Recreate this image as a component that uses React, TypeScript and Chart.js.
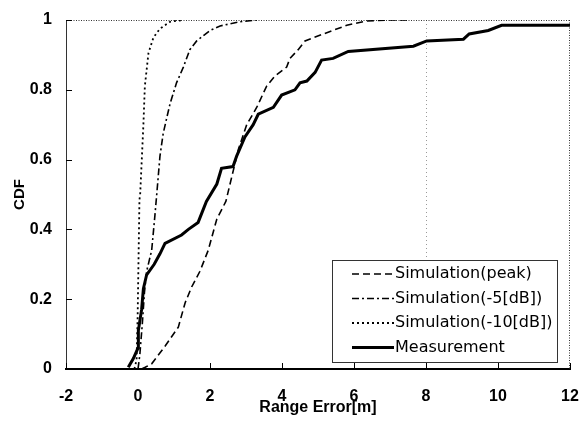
import React, { useEffect, useRef } from "react";
import { Chart, registerables } from "chart.js";

Chart.register(...registerables);

const X_TICKS = [-2, 0, 2, 4, 6, 8, 10, 12];
const Y_TICKS = [0, 0.2, 0.4, 0.6, 0.8, 1];
const SERIES_LABELS = ["Simulation(peak)", "Simulation(-5[dB])", "Simulation(-10[dB])", "Measurement"];

const peakX = [0.1, 0.2, 0.38, 0.75, 1.12, 1.31, 1.49, 1.72, 1.95, 2.19, 2.44, 2.65, 2.79, 3.02, 3.3, 3.57, 3.81, 4.13, 4.22, 4.45, 4.64, 5.15, 5.8, 6.35, 7.0, 7.5];
const peakY = [0, 0.005, 0.015, 0.065, 0.12, 0.19, 0.235, 0.28, 0.34, 0.43, 0.48, 0.57, 0.63, 0.7, 0.75, 0.81, 0.84, 0.865, 0.89, 0.915, 0.94, 0.96, 0.985, 0.997, 1.0, 1.0];

const db5X = [0.0, 0.05, 0.12, 0.18, 0.24, 0.38, 0.47, 0.52, 0.61, 0.7, 0.8, 0.89, 1.07, 1.26, 1.44, 1.63, 2.0, 2.28, 2.83, 3.3];
const db5Y = [0, 0.04, 0.13, 0.22, 0.28, 0.34, 0.44, 0.5, 0.61, 0.675, 0.72, 0.76, 0.82, 0.865, 0.915, 0.94, 0.97, 0.983, 0.995, 1.0];

const db10X = [-0.1, -0.04, -0.01, 0.04, 0.06, 0.15, 0.19, 0.29, 0.43, 0.61, 0.89, 1.25];
const db10Y = [0, 0.026, 0.15, 0.485, 0.5, 0.7, 0.81, 0.905, 0.95, 0.975, 0.995, 1.0];

const measX = [-0.27, -0.13, 0.0, 0.01, 0.1, 0.15, 0.24, 0.45, 0.61, 0.75, 1.21, 1.4, 1.67, 1.9, 2.19, 2.32, 2.64, 2.74, 2.97, 3.2, 3.34, 3.76, 3.99, 4.36, 4.5, 4.69, 4.92, 5.1, 5.42, 5.84, 7.65, 8.02, 9.04, 9.2, 9.73, 10.1, 12];
const measY = [0.005, 0.03, 0.06, 0.11, 0.17, 0.23, 0.27, 0.3, 0.33, 0.36, 0.384, 0.4, 0.42, 0.48, 0.53, 0.575, 0.58, 0.61, 0.665, 0.7, 0.73, 0.75, 0.785, 0.8, 0.82, 0.825, 0.85, 0.885, 0.89, 0.91, 0.925, 0.94, 0.945, 0.96, 0.97, 0.985, 0.985];

const zip = (xs: number[], ys: number[]) => xs.map((x, i) => ({ x, y: ys[i] }));

const framePlugin = {
  id: "frame",
  beforeDatasetsDraw(chart: any) {
    const { ctx, chartArea: a, scales } = chart;
    const xs = scales.x;
    const ys = scales.y;
    const line = (x1: number, y1: number, x2: number, y2: number) => {
      ctx.beginPath();
      ctx.moveTo(x1, y1);
      ctx.lineTo(x2, y2);
      ctx.stroke();
    };
    ctx.save();
    ctx.lineWidth = 1;
    ctx.strokeStyle = "#9a9a9a";
    ctx.setLineDash([1, 3]);
    const x8 = Math.round(xs.getPixelForValue(8)) + 0.5;
    line(x8, a.top, x8, a.bottom);
    ctx.strokeStyle = "#333";
    ctx.setLineDash([1, 1.5]);
    const yTop = Math.round(ys.getPixelForValue(1)) + 0.5;
    line(a.left, yTop, a.right, yTop);
    const xR = Math.round(xs.getPixelForValue(12)) - 0.5;
    line(xR, a.top, xR, a.bottom);
    ctx.setLineDash([]);
    ctx.strokeStyle = "#000";
    X_TICKS.forEach((v) => {
      const px = Math.round(xs.getPixelForValue(v)) + 0.5;
      line(px, a.bottom, px, a.bottom - 6);
    });
    Y_TICKS.forEach((v) => {
      const py = Math.round(ys.getPixelForValue(v)) + 0.5;
      line(a.left, py, a.left + 6, py);
    });
    ctx.restore();
  },
  afterDatasetsDraw(chart: any) {
    const { ctx, chartArea: a } = chart;
    const w = 225;
    const h = 102;
    const left = a.right - 13 - w;
    const top = a.bottom - 7 - h;
    ctx.save();
    ctx.fillStyle = "#fff";
    ctx.fillRect(left, top, w, h);
    ctx.strokeStyle = "#333";
    ctx.lineWidth = 1;
    ctx.strokeRect(Math.round(left) + 0.5, Math.round(top) + 0.5, w, h);
    ctx.font = "16px 'DejaVu Sans'";
    ctx.textBaseline = "middle";
    ctx.fillStyle = "#000";
    chart.data.datasets.forEach((ds: any, i: number) => {
      const cy = top + 14 + i * 24.5;
      ctx.strokeStyle = ds.borderColor;
      ctx.lineWidth = ds.borderWidth;
      ctx.setLineDash(ds.borderDash || []);
      ctx.beginPath();
      ctx.moveTo(left + 20, cy);
      ctx.lineTo(left + 62, cy);
      ctx.stroke();
      ctx.setLineDash([]);
      ctx.fillText(ds.label, left + 63, cy);
    });
    ctx.restore();
  },
};

export default function App() {
  const ref = useRef<HTMLCanvasElement>(null);
  useEffect(() => {
    if (!ref.current) return;
    const tickFont = { family: "'Liberation Sans', Arial, sans-serif", size: 16, weight: "bold" as const };
    const chart = new Chart(ref.current, {
      type: "scatter",
      data: {
        datasets: [
          { label: SERIES_LABELS[0], data: zip(peakX, peakY), borderColor: "#000", borderWidth: 1.6, borderDash: [7, 4] },
          { label: SERIES_LABELS[1], data: zip(db5X, db5Y), borderColor: "#000", borderWidth: 1.6, borderDash: [7, 3, 2, 3] },
          { label: SERIES_LABELS[2], data: zip(db10X, db10Y), borderColor: "#000", borderWidth: 1.8, borderDash: [2, 3] },
          { label: SERIES_LABELS[3], data: zip(measX, measY), borderColor: "#000", borderWidth: 3, borderDash: [] },
        ].map((d) => ({ ...d, showLine: true, pointRadius: 0, tension: 0, fill: false, backgroundColor: "#000" })),
      },
      options: {
        responsive: false,
        animation: false,
        devicePixelRatio: 1,
        layout: { padding: { top: 20, right: 15, left: 0, bottom: 0 } },
        plugins: { legend: { display: false }, tooltip: { enabled: false } },
        scales: {
          x: {
            type: "linear",
            min: -2,
            max: 12,
            afterFit: (s: any) => { s.height = 53; s.paddingLeft = 0; s.paddingRight = 0; },
            afterBuildTicks: (s: any) => { s.ticks = X_TICKS.map((v) => ({ value: v })); },
            grid: { display: false, drawTicks: false },
            border: { display: true, color: "#000", width: 2 },
            ticks: { color: "#000", font: tickFont, padding: 18, maxRotation: 0, callback: (v: any) => String(Math.round(Number(v) * 100) / 100) },
            title: { display: true, text: "Range Error[m]", color: "#000", font: tickFont, padding: { top: 0, bottom: 5 } },
          },
          y: {
            type: "linear",
            min: 0,
            max: 1,
            afterFit: (s: any) => { s.width = 66; s.paddingTop = 0; s.paddingBottom = 0; },
            afterBuildTicks: (s: any) => { s.ticks = Y_TICKS.map((v) => ({ value: v })); },
            grid: { display: false, drawTicks: false },
            border: { display: true, color: "#333", width: 1 },
            ticks: { color: "#000", font: tickFont, padding: 14, callback: (v: any) => String(Math.round(Number(v) * 100) / 100) },
            title: { display: true, text: "CDF", color: "#000", font: { ...tickFont, size: 15 }, padding: { top: 11, bottom: 0 } },
          },
        },
      },
      plugins: [framePlugin],
    });
    return () => chart.destroy();
  }, []);
  return (
    <div style={{ position: "absolute", left: 0, top: 0, width: 585, height: 422, background: "#fff" }}>
      <canvas ref={ref} width={585} height={422} style={{ display: "block" }} />
    </div>
  );
}
